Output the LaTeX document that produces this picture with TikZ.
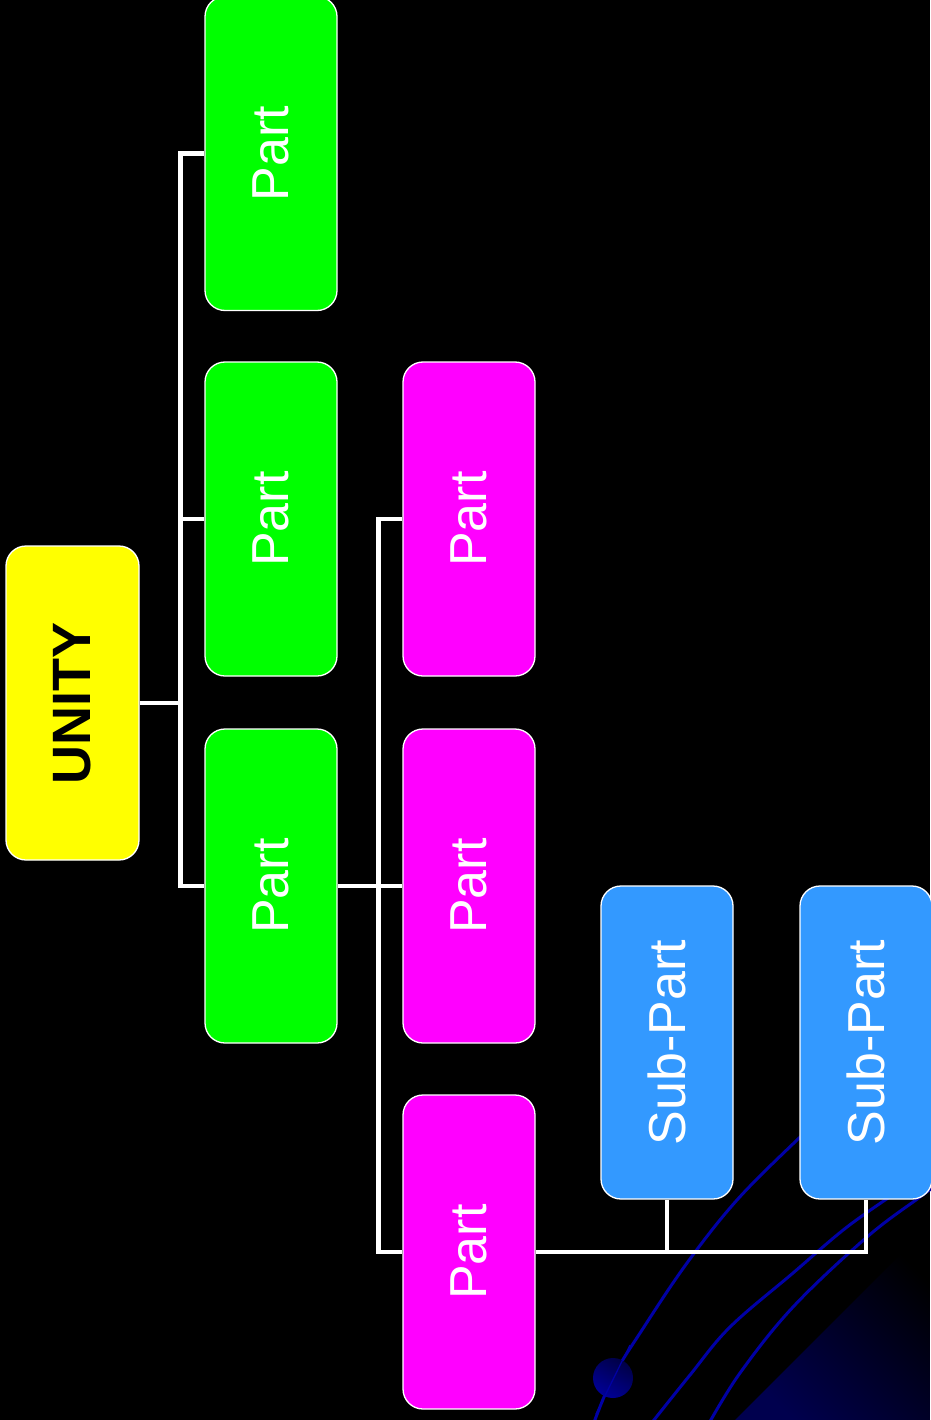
\documentclass[tikz,border=0pt]{standalone}
\usepackage{fontspec}
\setmainfont{Liberation Sans}
\usepackage{graphicx}
\definecolor{unityY}{RGB}{255,255,0}
\definecolor{partG}{RGB}{0,255,0}
\definecolor{partM}{RGB}{255,0,255}
\definecolor{subB}{RGB}{51,153,255}
\definecolor{decoB}{RGB}{0,0,165}
\definecolor{glowB}{RGB}{0,0,78}
\definecolor{glowA}{RGB}{0,0,14}
\begin{document}
\begin{tikzpicture}[x=1pt,y=-1pt,
  box/.style={draw=white, line width=1.3pt, rounded corners=20pt, inner sep=0pt,
    minimum width=132pt, minimum height=314pt, text=white,
    font=\fontsize{52}{60}\selectfont},
  conn/.style={draw=white, line width=4.5pt},
  deco/.style={draw=decoB, line width=3pt, line cap=round}]
\useasboundingbox (0,0) rectangle (930,1420);
\fill[black] (0,0) rectangle (930,1420);
% corner glow
\begin{scope}
\clip (0,0) rectangle (930,1420);
\shade[left color=black, middle color=glowA, right color=glowB, shading angle=-45]
  (930,1225) -- (930,1420) -- (735,1420) -- cycle;
\end{scope}
% decorative curves
\draw[deco] plot[smooth, tension=0.6] coordinates {(593,1425) (613,1377) (642,1330) (687,1263) (737,1200) (797,1140) (830,1110)};
\draw[deco] plot[smooth, tension=0.6] coordinates {(650,1425) (690,1375) (730,1327) (793,1273) (847,1227) (900,1190)};
\draw[deco] plot[smooth, tension=0.6] coordinates {(708,1425) (740,1373) (793,1307) (867,1237) (920,1197) (935,1186)};
\shade[top color={rgb,255:red,0;green,0;blue,70}, bottom color={rgb,255:red,0;green,0;blue,150}, shading angle=-30] (613,1378) circle (20);
\draw[draw=decoB, line width=1.2pt] (596,1414) -- (630,1345);
% nodes
\node[box, fill=unityY, text=black, minimum width=133pt, font=\bfseries\fontsize{54}{60}\selectfont] (u) at (72.5,703) {\rotatebox{90}{UNITY}};
\node[box, fill=partG] (g1) at (271,153.5) {\rotatebox{90}{Part}};
\node[box, fill=partG] (g2) at (271,519) {\rotatebox{90}{Part}};
\node[box, fill=partG] (g3) at (271,886) {\rotatebox{90}{Part}};
\node[box, fill=partM] (m1) at (469,519) {\rotatebox{90}{Part}};
\node[box, fill=partM] (m2) at (469,886) {\rotatebox{90}{Part}};
\node[box, fill=partM] (m3) at (469,1252) {\rotatebox{90}{Part}};
\node[box, fill=subB, minimum height=313pt] (b1) at (667,1042.5) {\rotatebox{90}{Sub-Part}};
\node[box, fill=subB, minimum height=313pt] (b2) at (866,1042.5) {\rotatebox{90}{Sub-Part}};
% connectors
\draw[conn] (u.east) -- ++(42,0);
\draw[conn] (g1.west) -- ++(-24,0) |- (g3.west);
\draw[conn] (g2.west) -- ++(-24,0);
\draw[conn] (g3.east) -- (m2.west);
\draw[conn] (m1.west) -- ++(-24,0) |- (m3.west);
\draw[conn] (m3.east) -| (b2.south);
\draw[conn] (b1.south) -- (b1.south |- m3.east);
\end{tikzpicture}
\end{document}
